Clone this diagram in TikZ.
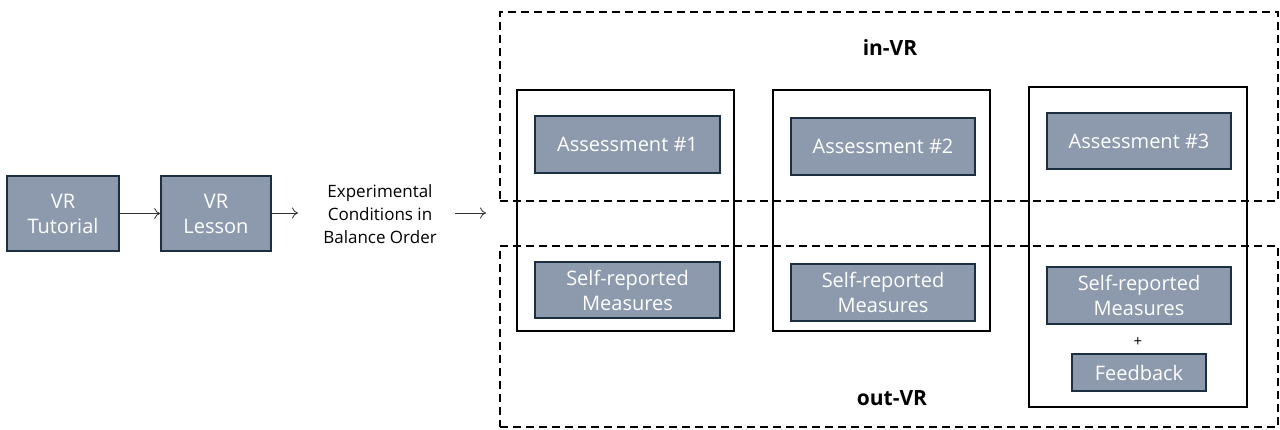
\documentclass[tikz,border=0pt]{standalone}
\usepackage{fontspec}
\setmainfont{Open Sans}
\usetikzlibrary{arrows.meta}
\definecolor{boxfill}{HTML}{8D9AAD}
\definecolor{boxline}{HTML}{1B2F40}
\begin{document}
\begin{tikzpicture}[x=1pt,y=-1pt,
  stepbox/.style={draw=boxline, line width=1.6pt, fill=boxfill, text=white,
    align=center, inner sep=0pt, font=\fontsize{20}{25}\selectfont},
  group/.style={draw=black, line width=2.6pt, inner sep=0pt},
  zone/.style={draw=black, line width=1.8pt, dash pattern=on 8pt off 5pt, inner sep=0pt},
  zonelabel/.style={font=\fontsize{21}{24}\selectfont\bfseries},
  arr/.style={draw=black!80, line width=0.8pt, -{To[length=6pt,width=11pt]}}]
\useasboundingbox (0,0) rectangle (1280,430);

% the two measurement zones
\node[zone, minimum width=778, minimum height=189] (invr) at (889,106.5) {};
\node[zone, minimum width=778, minimum height=181] (outvr) at (889,336.5) {};
\node[zonelabel] (invrlab) at (890,48) {in-VR};
\node[zonelabel] (outvrlab) at (892,398) {out-VR};

% the three experimental conditions
\node[group, minimum width=217, minimum height=241] (c1) at (625.5,210.5) {};
\node[group, minimum width=217, minimum height=241] (c2) at (881.5,210.5) {};
\node[group, minimum width=218, minimum height=320] (c3) at (1138,247) {};

% condition contents
\node[stepbox, minimum width=185, minimum height=57] (a1) at (627.5,144.5) {Assessment \#1};
\node[stepbox, minimum width=184, minimum height=57] (a2) at (883,146.5) {Assessment \#2};
\node[stepbox, minimum width=184, minimum height=56] (a3) at (1139,141) {Assessment \#3};
\node[stepbox, minimum width=185, minimum height=56] (s1) at (627.5,290) {Self-reported\\Measures};
\node[stepbox, minimum width=184, minimum height=57] (s2) at (883,292.5) {Self-reported\\Measures};
\node[stepbox, minimum width=184, minimum height=57] (s3) at (1139,295.5) {Self-reported\\Measures};
\node[font=\fontsize{15}{16}\selectfont] (plus) at (1138,342) {+};
\node[stepbox, minimum width=134, minimum height=37] (fb) at (1139,372.5) {Feedback};

% lead-in sequence
\node[stepbox, minimum width=112, minimum height=75] (tut) at (63,213.5) {VR\\Tutorial};
\node[stepbox, minimum width=110, minimum height=75] (les) at (216,213.5) {VR\\Lesson};
\node[align=center, font=\fontsize{17}{23}\selectfont] (cond) at (380,214) {Experimental\\Conditions in\\Balance Order};
\coordinate (l1) at (298,213);
\coordinate (r0) at (455,213);
\coordinate (r1) at (486,213);

\draw[arr] (tut.east) -- (les.west);
\draw[arr] (les.east |- l1) -- (l1);
\draw[arr] (r0) -- (r1);
\end{tikzpicture}
\end{document}
